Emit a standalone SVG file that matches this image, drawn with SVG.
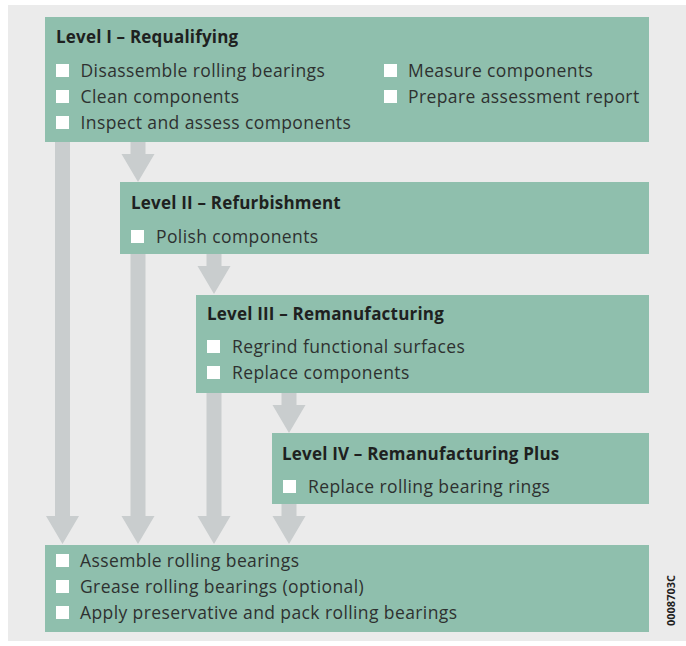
<svg xmlns="http://www.w3.org/2000/svg" width="686" height="646" viewBox="0 0 686 646">
<style>
.box{fill:#8fbfad;}
.chk{fill:#ffffff;}
.arr{fill:#c9cdce;}
.t{font-family:"Open Sans","Noto Sans",sans-serif;font-size:17.5px;letter-spacing:0.4px;fill:#2e3130;}
.h{font-family:"Open Sans","Noto Sans",sans-serif;font-size:17px;letter-spacing:0.2px;font-weight:bold;fill:#1e2120;}
.code{font-family:"Open Sans","Noto Sans",sans-serif;font-size:11px;font-weight:bold;fill:#1e2120;}
</style>
<rect x="0" y="0" width="686" height="646" fill="#ffffff"/>
<rect x="8" y="5" width="678" height="636" fill="#ebebeb"/>
<g id="connectors">
<polygon class="arr" points="55,142 70,142 70,516 79,516 62.5,544 46,516 55,516"/>
<polygon class="arr" points="130.5,142 145.5,142 145.5,154 154.5,154 138,182 121.5,154 130.5,154"/>
<polygon class="arr" points="130.5,254 145.5,254 145.5,516 154.5,516 138,544 121.5,516 130.5,516"/>
<polygon class="arr" points="206.5,254 221.5,254 221.5,266 230.5,266 214,294 197.5,266 206.5,266"/>
<polygon class="arr" points="206.5,393 221.5,393 221.5,516 230.5,516 214,544 197.5,516 206.5,516"/>
<polygon class="arr" points="281.5,393 296.5,393 296.5,405 305.5,405 289,433 272.5,405 281.5,405"/>
<polygon class="arr" points="281.5,504 296.5,504 296.5,516 305.5,516 289,544 272.5,516 281.5,516"/>
</g>
<g id="level1">
<rect class="box" x="45" y="17" width="604" height="125"/>
<text class="h" x="56" y="43">Level I – Requalifying</text>
<rect class="chk" x="56" y="64" width="13" height="13"/>
<text class="t" x="80.5" y="77">Disassemble rolling bearings</text>
<rect class="chk" x="56" y="90" width="13" height="13"/>
<text class="t" x="80.5" y="103">Clean components</text>
<rect class="chk" x="56" y="116" width="13" height="13"/>
<text class="t" x="80.5" y="129">Inspect and assess components</text>
<rect class="chk" x="384" y="64" width="13" height="13"/>
<text class="t" x="408" y="77">Measure components</text>
<rect class="chk" x="384" y="90" width="13" height="13"/>
<text class="t" x="408" y="103">Prepare assessment report</text>
</g>
<g id="level2">
<rect class="box" x="120" y="182" width="529" height="72"/>
<text class="h" x="131" y="209">Level II – Refurbishment</text>
<rect class="chk" x="131" y="230" width="13" height="13"/>
<text class="t" x="156" y="243">Polish components</text>
</g>
<g id="level3">
<rect class="box" x="196" y="295" width="453" height="98"/>
<text class="h" x="207" y="320">Level III – Remanufacturing</text>
<rect class="chk" x="207" y="340" width="13" height="13"/>
<text class="t" x="232" y="353">Regrind functional surfaces</text>
<rect class="chk" x="207" y="366" width="13" height="13"/>
<text class="t" x="232" y="379">Replace components</text>
</g>
<g id="level4">
<rect class="box" x="272" y="433" width="377" height="71"/>
<text class="h" x="282" y="460">Level IV – Remanufacturing Plus</text>
<rect class="chk" x="283" y="480" width="13" height="13"/>
<text class="t" x="308" y="493">Replace rolling bearing rings</text>
</g>
<g id="final">
<rect class="box" x="45" y="545" width="604" height="87"/>
<rect class="chk" x="56" y="554" width="13" height="13"/>
<text class="t" x="80" y="567">Assemble rolling bearings</text>
<rect class="chk" x="56" y="580" width="13" height="13"/>
<text class="t" x="80" y="593">Grease rolling bearings (optional)</text>
<rect class="chk" x="56" y="606" width="13" height="13"/>
<text class="t" x="80" y="619">Apply preservative and pack rolling bearings</text>
</g>
<text class="code" transform="translate(675,626) rotate(-90)">0008703C</text>
</svg>
